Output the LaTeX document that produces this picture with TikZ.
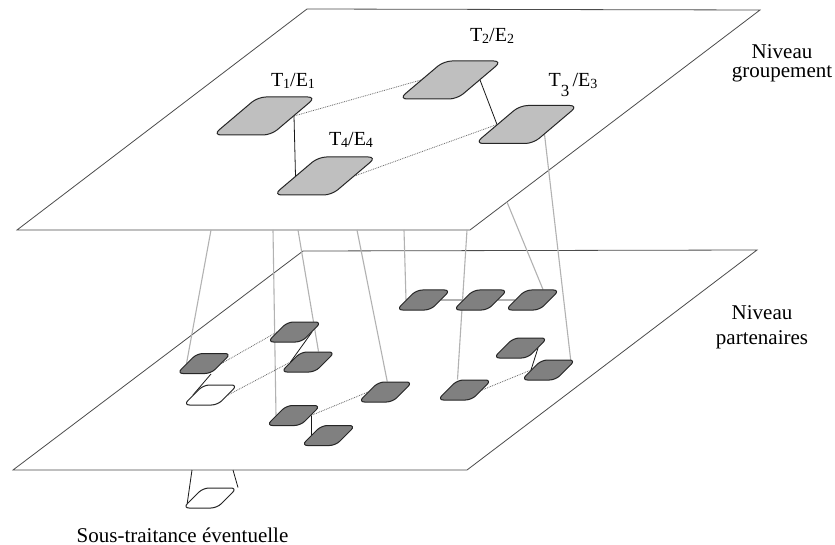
\documentclass[tikz,border=0pt]{standalone}
\usepackage{fontspec}
\setmainfont{Liberation Serif}
\usepackage{tikz}
\usetikzlibrary{
    calc,
    positioning
}
\pgfdeclarelayer{planes}
\pgfdeclarelayer{links}
\pgfsetlayers{planes,links,main}
\tikzset{
    every picture/.style = {
        x = 1pt,
        y = -1pt,
        line join = round
    },
    plane/.style = {
        draw = black!70,
        line width = 0.8pt,
        fill = white
    },
    team/.style = {
        draw = black!85,
        line width = 1pt,
        fill = black!25,
        inner sep = 0pt,
        minimum width = 58pt,
        minimum height = 38pt,
        rounded corners = 8pt,
        xslant = 1.18
    },
    partner/.style = {
        draw = black!85,
        line width = 1pt,
        fill = black!50,
        inner sep = 0pt,
        minimum width = 34pt,
        minimum height = 20pt,
        rounded corners = 6pt,
        xslant = 1
    },
    subco/.style = {
        partner,
        fill = white
    },
    tie/.style = {draw = black!90, line width = 0.8pt},
    loose/.style = {draw = black!60, line width = 0.8pt, densely dotted},
    drop/.style = {draw = black!30, line width = 1.1pt},
    tag/.style = {
        font = \fontsize{20}{22}\selectfont,
        inner sep = 0pt,
        anchor = base
    },
    level/.style = {
        font = \fontsize{21}{19}\selectfont,
        inner sep = 0pt,
        align = center
    }
}
\newcommand{\idx}[1]{\raisebox{-1.5pt}{\fontsize{14}{14}\selectfont #1}}

\begin{document}
\begin{tikzpicture}
    \useasboundingbox (0,0) rectangle (835,545);

    % the two levels
    \begin{pgfonlayer}{planes}
        \draw[plane] (13,470) -- (467,470) -- (757,250) -- (303,251) -- cycle;
        \draw[plane] (17,230) -- (470,230) -- (760,10) -- (307,9) -- cycle;
    \end{pgfonlayer}

    % groupement
    \node[team] (t1) at (264.5,116) {};
    \node[team] (t2) at (450.5,80) {};
    \node[team] (t3) at (526.5,124.5) {};
    \node[team] (t4) at (325,176) {};

    \node[tag] (l1) at (293,87) {T\idx{1}/E\idx{1}};
    \node[tag] (l2) at (492,42) {T\idx{2}/E\idx{2}};
    \node[tag] (l3) at (573,87) {T\raisebox{-10pt}{\fontsize{17}{17}\selectfont 3}\,/E\idx{3}};
    \node[tag] (l4) at (351,146) {T\idx{4}/E\idx{4}};

    % partenaires
    \node[partner] (p1) at (204,363.5) {};
    \node[subco] (st1) at (210.5,395) {};
    \node[partner] (p2) at (294.5,332) {};
    \node[partner] (p3) at (308,362) {};
    \node[partner] (p4) at (293.5,415.5) {};
    \node[partner] (p5) at (328.5,435.5) {};
    \node[partner] (p6) at (385.5,392) {};
    \node[partner] (p7) at (423.5,300) {};
    \node[partner] (p8) [right = 22pt of p7] {};
    \node[partner] (p9) [right = 17pt of p8] {};
    \node[partner] (p10) at (520.5,348) {};
    \node[partner] (p11) at (548.5,370) {};
    \node[partner] (p12) at (464.5,390) {};
    \node[subco] (st2) at (210,498) {};

    \node[level] (lv1) at (782,63) {Niveau\\groupement};
    \node[level] (lv2) at (762,327) {Niveau\\[6pt]partenaires};
    \node[level, anchor = base] (lv3) at (182.5,542) {Sous-traitance éventuelle};

    % where the drops leave the upper level
    \coordinate (drop1) at (211,230);
    \coordinate (drop2) at (273,230);
    \coordinate (drop3) at (298,230);
    \coordinate (drop4) at (357,230);
    \coordinate (drop5) at (404,230);
    \coordinate (drop6) at (467,230);
    \coordinate (drop7) at (507,202);
    \coordinate (sc1) at (192,470);
    \coordinate (sc2) at (233,470);

    \begin{pgfonlayer}{links}
        \path[tie] (t1.east) edge (t4.west)
                   (t2.east) edge (t3.west);
        \path[loose] (t1.east) edge (t2.west)
                     (t4.east) edge (t3.west);

        \path[drop] (drop1) edge (p1.west)
                    (drop2) edge (p4.west)
                    (drop3) edge (p3.north)
                    (drop4) edge ($(p6.north west)!.5!(p6.north)$)
                    (drop5) edge (p7.west)
                    (drop6) edge (p12.north west)
                    (drop7) edge (p9.north)
                    ($(t3.east)!.5!(t3.south east)$) edge ($(p11.east)!.5!(p11.north east)$)
                    (p7) edge (p8)
                    (p8) edge (p9);

        \path[tie] (p1.south east) edge (st1.west)
                   (p2.east) edge (p3.west)
                   (p4.east) edge (p5.west)
                   (p10.east) edge (p11.west)
                   (sc1) edge ($(st2.west)!.5!(st2.south west)$)
                   (sc2) edge (st2.north east);
        \path[loose] (p1.east) edge (p2.west)
                     (st1.east) edge (p3.west)
                     (p4.east) edge (p6.west)
                     (p12.east) edge (p11.west);
    \end{pgfonlayer}
\end{tikzpicture}
\end{document}
